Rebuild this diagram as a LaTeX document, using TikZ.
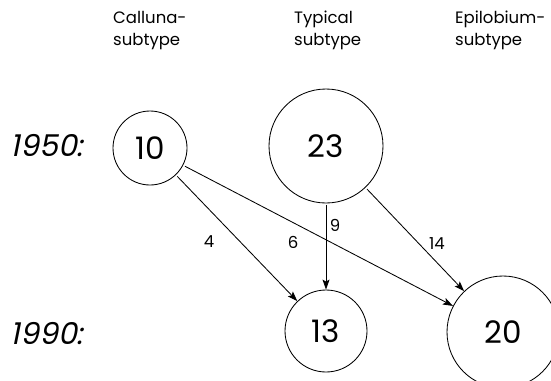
\documentclass[tikz,border=0pt]{standalone}
\usepackage{fontspec}
\setmainfont{Poppins}
\newfontfamily\yearfont[FakeSlant=0.2]{Poppins}
\usetikzlibrary{arrows.meta}
\tikzset{
  pop/.style={circle, draw, line width=0.85pt, inner sep=0pt, font=\fontsize{31}{36}\selectfont},
  flow/.style={line width=0.85pt, -{Stealth[length=10pt,width=7pt,inset=2pt]}, shorten <=2pt},
  lab/.style={font=\fontsize{16.5}{18}\selectfont, inner sep=0pt},
  head/.style={font=\fontsize{16.5}{22}\selectfont, align=left, anchor=north west, inner sep=0pt},
  year/.style={font=\fontsize{30}{34}\yearfont, inner sep=0pt}
}
\begin{document}
\begin{tikzpicture}[x=1pt,y=-1pt]
\useasboundingbox (0,0) rectangle (551,380);
\clip (0,0) rectangle (551,380);
\node[head] (h1) at (113,11) {Calluna-\\subtype};
\node[head] (h2) at (294,11) {Typical\\subtype};
\node[head] (h3) at (455,11) {Epilobium-\\subtype};
\node[year] (y1) at (47,146) {1950:};
\node[year] (y2) at (47,334) {1990:};
\node[pop, minimum size=74pt] (c10) at (150,148) {10};
\node[pop, minimum size=114pt] (c23) at (326,146) {23};
\node[pop, minimum size=82pt] (c13) at (326,331) {13};
\node[pop, minimum size=112pt] (c20) at (503,332) {20};
\draw[flow] (c10) -- (c13);
\draw[flow] (c10) -- (c20);
\draw[flow] (c23) -- (c13);
\draw[flow] (c23) -- (c20);
\node[lab] (l4) at (209,242) {4};
\node[lab] (l6) at (293,242) {6};
\node[lab] (l9) at (335,225) {9};
\node[lab] (l14) at (437,244) {14};
\end{tikzpicture}
\end{document}
